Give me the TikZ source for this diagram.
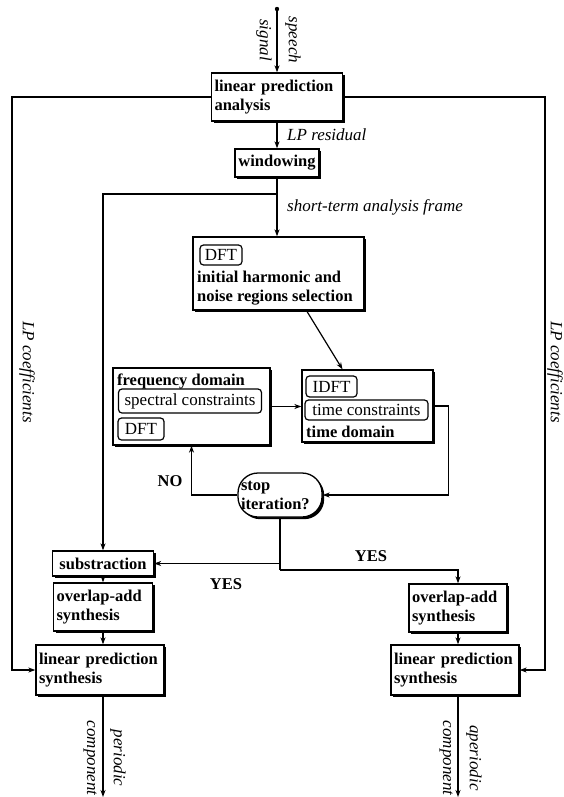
\documentclass[tikz,border=0pt]{standalone}
\usepackage{fontspec}
\setmainfont{Liberation Serif}
\usetikzlibrary{arrows.meta,shadows,calc}
\begin{document}
\begin{tikzpicture}[x=1pt,y=-1pt,
  every node/.style={font=\fontsize{16.5}{19}\selectfont},
  box/.style={draw,line width=1.3pt,fill=white,
    drop shadow={shadow xshift=2.2pt,shadow yshift=-2.2pt,opacity=1,fill=black},
    font=\fontsize{16.5}{19}\selectfont\bfseries,align=left,inner sep=3pt},
  ibox/.style={draw,line width=1.2pt,rounded corners=3.5pt,fill=white,
    font=\fontsize{17}{19}\selectfont,inner xsep=3pt,inner ysep=1pt},
  btxt/.style={font=\fontsize{16.5}{19}\selectfont\bfseries,inner sep=0pt,anchor=west},
  lbl/.style={font=\fontsize{17}{19}\selectfont\itshape,inner sep=0pt},
  ylbl/.style={font=\fontsize{16.5}{19}\selectfont\bfseries,inner sep=0pt},
  arr/.style={-{Stealth[length=7pt,width=5pt]},line width=1.2pt},
  ln/.style={line width=1.2pt}
]
\useasboundingbox (0,0) rectangle (563,797);

% input
\coordinate (in) at (277,9);
\fill (in) circle[radius=2.2pt];
\node[box,text width=125pt,minimum height=48pt] (lpa) at (277,97) {linear prediction\\analysis};
\draw[arr] (in) -- (lpa.north);
\node[lbl,rotate=-90] (speech) at (293,40) {speech};
\node[lbl,rotate=-90] (signal) at (264,40) {signal};

% windowing
\node[box,minimum width=84pt,minimum height=28pt,align=center] (win) at (277,163) {windowing};
\draw[arr] (lpa.south) -- (win.north);
\node[lbl,anchor=west] (lpres) at (287,135) {LP residual};

% DFT block
\node[box,minimum width=171pt,minimum height=73pt] (dft) at (278.5,273.5) {};
\node[ibox,minimum width=42pt,minimum height=20pt] (dftA) at (221,255) {DFT};
\node[btxt] (dftT1) at (197,277) {initial harmonic and};
\node[btxt] (dftT2) at (197,298) {noise regions selection};

\coordinate (j1) at (277,194);
\coordinate (j2) at (103,194);
\draw[ln] (win.south) -- (j1);
\draw[arr] (j1) -- (j1 |- dft.north);
\node[lbl,anchor=west] (stframe) at (287,207) {short-term analysis frame};

% frequency domain block
\node[box,minimum width=157pt,minimum height=77pt] (freq) at (191.5,406.5) {};
\node[btxt] (freqT) at (117,381) {frequency domain};
\node[ibox,minimum width=143pt,minimum height=24pt] (spec) at (190,401) {spectral constraints};
\node[ibox,minimum width=46pt,minimum height=22pt] (fdft) at (141,429) {DFT};

% time domain block
\node[box,minimum width=131pt,minimum height=72pt] (idft) at (367.5,406) {};
\node[ibox,minimum width=51pt,minimum height=21pt] (idftA) at (331.5,386.5) {IDFT};
\node[ibox,minimum width=123pt,minimum height=20pt] (tcon) at (366.5,410) {time constraints};
\node[btxt] (tdom) at (306,432) {time domain};

\draw[arr] ($(dft.south)+(28,0)$) -- ($(idft.north)+(-25,0)$);
\draw[arr] (freq.east) -- (freq.east -| idft.west);

% stop iteration
\node[box,rounded corners=20pt,minimum width=84pt,minimum height=44pt,text width=78pt] (stop) at (280,495) {stop\\iteration?};
\draw[arr] (idft.east) -- ++(15,0) |- (stop.east);
\draw[arr] (stop.west) -| (freq.south);
\node[ylbl] (no) at (170,481) {NO};

% lower left chain
\node[box,minimum width=101pt,minimum height=25pt,align=center] (sub) at (103,563.5) {substraction};
\node[box,text width=93pt,minimum height=48pt] (olaL) at (103,607) {overlap-add\\synthesis};
\node[box,text width=122pt,minimum height=50pt] (lpsL) at (100,670) {linear prediction\\synthesis};
\draw[arr] (j1) -- (j2) -- (sub.north);
\draw[arr] (sub.south) -- (olaL.north);
\draw[arr] (olaL.south) -- (olaL.south |- lpsL.north);

% lower right chain
\node[box,text width=92pt,minimum height=48pt] (olaR) at (458,608) {overlap-add\\synthesis};
\node[box,text width=122pt,minimum height=50pt] (lpsR) at (455,670) {linear prediction\\synthesis};
\draw[arr] (olaR.south) -- (olaR.south |- lpsR.north);

% YES branches
\coordinate (j3) at (280,563.5);
\coordinate (j4) at (280,570);
\draw[ln] (stop.south) -- (j4);
\draw[arr] (j3) -- (sub.east);
\draw[arr] (j4) -| (olaR.north);
\node[ylbl] (yes1) at (371,556) {YES};
\node[ylbl] (yes2) at (226,584) {YES};

% LP coefficients side lines
\coordinate (cl) at (12,97);
\coordinate (cr) at (545,97);
\draw[arr] (lpa.west) -- (cl) |- (lpsL.west);
\draw[arr] (lpa.east) -- (cr) |- (lpsR.east);
\node[lbl,rotate=-90] (lpcL) at (27,372) {LP coefficients};
\node[lbl,rotate=-90] (lpcR) at (555,372) {LP coefficients};

% outputs
\coordinate (outL) at (103,797);
\coordinate (outR) at (458,797);
\draw[arr] (olaL.south |- lpsL.south) -- (outL);
\draw[arr] (olaR.south |- lpsR.south) -- (outR);
\node[lbl,rotate=-90] (perL) at (118,758) {periodic};
\node[lbl,rotate=-90] (compL) at (90,758) {component};
\node[lbl,rotate=-90] (aperR) at (474,758) {aperiodic};
\node[lbl,rotate=-90] (compR) at (446,758) {component};
\end{tikzpicture}
\end{document}
